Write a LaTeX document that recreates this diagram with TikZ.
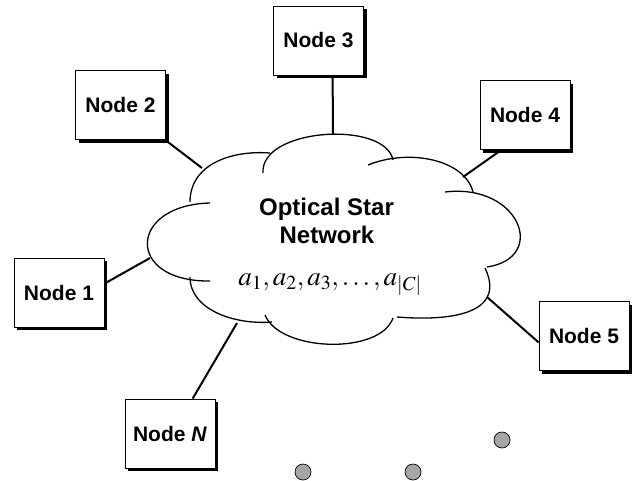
\documentclass[tikz,border=0pt]{standalone}
\usepackage{mathptmx}
\usepackage[no-math]{fontspec}
\newfontfamily\labelfont{Liberation Sans}
\usetikzlibrary{shadows}
\usetikzlibrary{positioning}

\begin{document}
\begin{tikzpicture}[x=1pt,y=-1pt,
	nodebox/.style={draw,line width=0.8pt,fill=white,minimum width=90pt,minimum height=69pt,font=\labelfont\bfseries\fontsize{21}{25}\selectfont,drop shadow={shadow xshift=3pt,shadow yshift=-3pt,fill=black,opacity=1}},
	link/.style={line width=2pt}, lobe/.style={line width=1.3pt},
	dot/.style={draw,circle,fill=gray!70,minimum size=16pt,inner sep=0pt,line width=0.7pt}]
				\useasboundingbox (0,0) rectangle (634,480);
				\draw [lobe] (210,203) .. controls (128,205) and (125,282) .. (210,281); \draw [lobe] (190,202) .. controls (190,165) and (230,150) .. (270,153);
				\draw [lobe] (263,173) .. controls (260,128) and (385,120) .. (393,160); \draw [lobe] (368,165) .. controls (410,148) and (465,160) .. (473,192);
				\draw [lobe] (445,192) .. controls (520,183) and (548,258) .. (487,267); \draw [lobe] (485,268) .. controls (505,310) and (460,322) .. (397,317);
				\draw [lobe] (393,318) .. controls (380,355) and (280,352) .. (265,315); \draw [lobe] (190,277) .. controls (190,310) and (235,325) .. (272,322);
				\node (title) [anchor=base,font=\labelfont\bfseries\fontsize{24}{28}\selectfont] at (326.5,215) {Optical Star};
				\node (title2) [anchor=base,font=\labelfont\bfseries\fontsize{24}{28}\selectfont] at (327,243) {Network};
				\node (chan) [anchor=base,font=\fontsize{27}{32}\selectfont] at (330,285) {$a_1, a_2, a_3, \ldots, a_{|C|}$};
				\coordinate (c1) at (150,258); \coordinate (c2) at (202,168); \coordinate (c3) at (333,134); \coordinate (c4) at (463,177); \coordinate (c5) at (487,297); \coordinate (cN) at (237,323);
				\node (n1) [nodebox] at (59,292.5) {Node 1}; \node (n2) [nodebox] at (120.5,105) {Node 2}; \node (n3) [nodebox] at (318.5,40.5) {Node 3};
				\node (n4) [nodebox] at (525,115) {Node 4}; \node (n5) [nodebox] at (584,336) {Node 5}; \node (nN) [nodebox] at (170,433.5) {Node \textit{N}};
				\draw [link] (n1.11) -- (c1); \draw [link] (n2.-38) -- (c2); \draw [link] (n3.-68) -- (c3);
				\draw [link] (n4.-124) -- (c4); \draw [link] (n5.188) -- (c5); \draw [link] (nN.57) -- (cN);
				\node (d1) [dot] at (303,472) {}; \node (d2) [dot] at (413,472) {}; \node (d3) [dot] at (502,440) {};
			\end{tikzpicture}
\end{document}
